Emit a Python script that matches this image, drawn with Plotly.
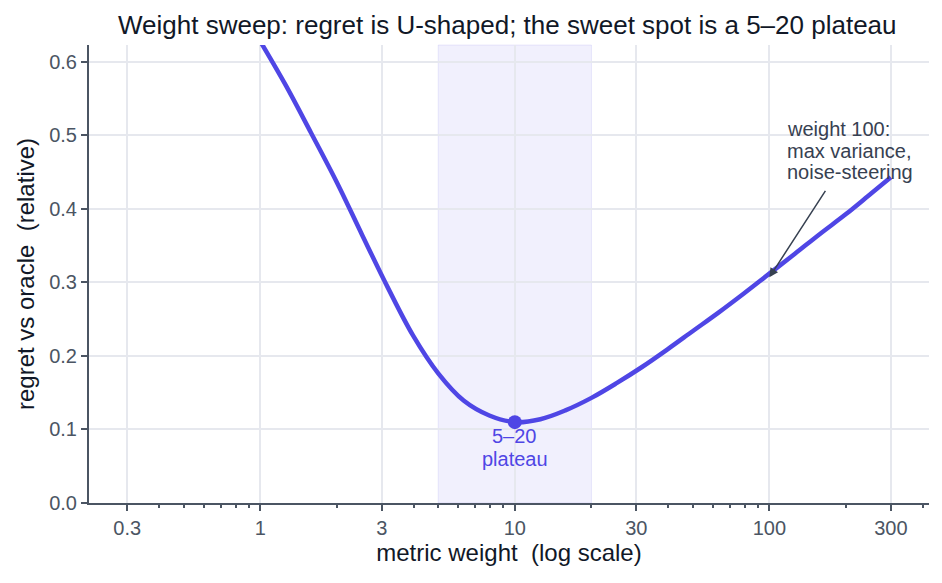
import math
import plotly.graph_objects as go

# weight sweep
weights = [1, 1.26, 1.58, 2, 2.51, 3.16, 3.98, 5.01, 6.31, 7.94, 10, 12.6, 15.8, 20, 25.1,
           31.6, 39.8, 50.1, 63.1, 79.4, 100, 126, 158, 200, 251, 300]
regret = [0.628, 0.568, 0.504, 0.436, 0.365, 0.294, 0.228, 0.176, 0.139, 0.119, 0.110, 0.114,
          0.126, 0.143, 0.163, 0.185, 0.209, 0.234, 0.259, 0.285, 0.312, 0.339, 0.366, 0.393,
          0.421, 0.443]

best_w = 10
best_r = 0.110
plateau = [5, 20]
note_w = 100
note_r = 0.307
note_lines = ["weight 100:", "max variance,", "noise-steering"]

xticks = [0.3, 1, 3, 10, 30, 100, 300]
xticklabels = ["0.3", "1", "3", "10", "30", "100", "300"]
yticks = [0, 0.1, 0.2, 0.3, 0.4, 0.5, 0.6]

INDIGO = "#4F46E5"
AXIS = "#4B5563"
GRID = "#E6E8EE"
INK = "#111827"

minor_vals = [m * 10 ** d for d in range(-1, 3) for m in range(2, 10) if m * 10 ** d not in xticks]

fig = go.Figure()

fig.add_vrect(x0=plateau[0], x1=plateau[1], fillcolor="rgba(79,70,229,0.08)",
              line=dict(color="rgba(79,70,229,0.10)", width=1), layer="below")

fig.add_trace(go.Scatter(x=weights, y=regret, mode="lines",
                         line=dict(color=INDIGO, width=4.5, shape="spline", smoothing=1.0),
                         showlegend=False, hoverinfo="skip"))

fig.add_trace(go.Scatter(x=[best_w], y=[best_r], mode="markers",
                         marker=dict(color=INDIGO, size=14), showlegend=False))

# plateau label, one line at a time
for txt, dy in zip(["5–20", "plateau"], [-14, -37]):
    fig.add_annotation(x=math.log10(best_w), y=best_r, text=txt, showarrow=False,
                       yanchor="middle", yshift=dy, font=dict(color=INDIGO, size=20))

# arrow to weight 100
fig.add_annotation(x=math.log10(note_w), y=note_r, text="", showarrow=True,
                   arrowhead=2, arrowsize=1.2, arrowwidth=1.5, arrowcolor="#374151",
                   ax=57, ay=-88)
for txt, dy in zip(note_lines, [148, 126, 105]):
    fig.add_annotation(x=math.log10(note_w), y=note_r, text=txt, showarrow=False,
                       xanchor="left", yanchor="middle", xshift=16, yshift=dy,
                       font=dict(color="#374151", size=20))

fig.update_layout(
    width=942, height=583,
    margin=dict(l=81, r=21, t=37, b=88),
    paper_bgcolor="white", plot_bgcolor="white",
    font=dict(family="Liberation Sans, Arial, sans-serif", size=20, color=AXIS),
    title=dict(text="Weight sweep: regret is U-shaped; the sweet spot is a 5–20 plateau",
               xref="container", x=0.53, xanchor="center",
               yref="container", y=0.971, yanchor="middle",
               font=dict(size=26, color=INK)),
)

fig.update_xaxes(
    type="log",
    range=[math.log10(0.3) - 0.15, math.log10(300) + 0.15],
    tickvals=xticks, ticktext=xticklabels,
    ticks="outside", ticklen=6, tickcolor=AXIS, tickwidth=1.5,
    showline=True, linecolor=AXIS, linewidth=2,
    showgrid=True, gridcolor=GRID, gridwidth=1.5,
    zeroline=False,
    minor=dict(tickvals=minor_vals, ticks="outside", ticklen=3, tickcolor=AXIS, showgrid=False),
    title=dict(text="metric weight  (log scale)", font=dict(size=24, color=INK), standoff=4),
)

fig.update_yaxes(
    range=[0, 0.623],
    tickvals=yticks, tickformat=".1f",
    ticks="outside", ticklen=6, tickcolor=AXIS, tickwidth=1.5,
    showline=True, linecolor=AXIS, linewidth=2,
    showgrid=True, gridcolor=GRID, gridwidth=1.5,
    zeroline=False,
    title=dict(text="regret vs oracle  (relative)", font=dict(size=24, color=INK), standoff=8),
)

fig.write_html("out.html")
